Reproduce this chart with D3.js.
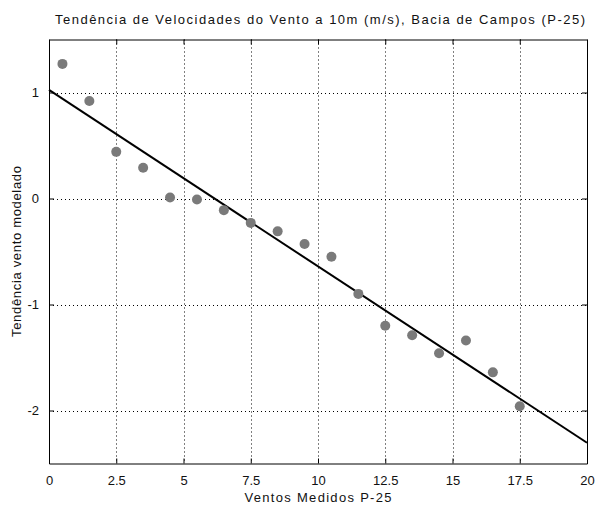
<!DOCTYPE html>
<html>
<head>
<meta charset="utf-8">
<script src="https://cdn.jsdelivr.net/npm/d3@7"></script>
<style>
  html, body { margin: 0; padding: 0; background: #fff; }
  svg { display: block; }
  text { font-family: "Liberation Sans", Arial, Helvetica, sans-serif; fill: #111; }
</style>
</head>
<body>
<svg id="chart" width="596" height="510"></svg>
<script>
// Measured wind speed bins (m/s) and modelled wind trend
const windBins = [0.5, 1.5, 2.5, 3.5, 4.5, 5.5, 6.5, 7.5, 8.5, 9.5, 10.5, 11.5, 12.5, 13.5, 14.5, 15.5, 16.5, 17.5];
const trendValues = [1.27, 0.92, 0.44, 0.29, 0.01, -0.01, -0.11, -0.23, -0.31, -0.43, -0.55, -0.90, -1.20, -1.29, -1.46, -1.34, -1.64, -1.96];

// Linear fit drawn across the full x range
const fitX = [0, 20];
const fitY = [1.024, -2.304];

const xTicks = [0, 2.5, 5, 7.5, 10, 12.5, 15, 17.5, 20];
const xTickLabels = ["0", "2.5", "5", "7.5", "10", "12.5", "15", "17.5", "20"];
const yTicks = [-2, -1, 0, 1];
const yTickLabels = ["-2", "-1", "0", "1"];

const titleText = "Tendência de Velocidades do Vento a 10m (m/s), Bacia de Campos (P-25)";
const xLabelText = "Ventos Medidos P-25";
const yLabelText = "Tendência vento modelado";

const svg = d3.select("#chart");
const plotLeft = 49, plotRight = 587, plotTop = 39.5, plotBottom = 463.5;

const x = d3.scaleLinear().domain([0, 20]).range([plotLeft, plotRight]);
const y = d3.scaleLinear().domain([-2.5, 1.5]).range([plotBottom, plotTop]);

// Dotted grid
const grid = svg.append("g");
grid.selectAll("line.gx")
  .data(xTicks.filter(d => d > 0 && d < 20))
  .join("line")
  .attr("x1", d => Math.round(x(d)) + 0.5).attr("x2", d => Math.round(x(d)) + 0.5)
  .attr("y1", plotTop).attr("y2", plotBottom)
  .attr("stroke", "#000").attr("stroke-width", 1).attr("stroke-dasharray", "1,3");
grid.selectAll("line.gy")
  .data(yTicks)
  .join("line")
  .attr("y1", d => Math.round(y(d)) + 0.5).attr("y2", d => Math.round(y(d)) + 0.5)
  .attr("x1", plotLeft).attr("x2", plotRight)
  .attr("stroke", "#000").attr("stroke-width", 1).attr("stroke-dasharray", "1,3");

// Axes with inward ticks on all four sides
const tickLen = 5;
const xAxisB = d3.axisBottom(x).tickValues(xTicks).tickFormat((d, i) => xTickLabels[i]).tickSizeInner(-tickLen).tickSizeOuter(0).tickPadding(12);
const xAxisT = d3.axisTop(x).tickValues(xTicks).tickFormat("").tickSizeInner(-tickLen).tickSizeOuter(0);
const yAxisL = d3.axisLeft(y).tickValues(yTicks).tickFormat((d, i) => yTickLabels[i]).tickSizeInner(-tickLen).tickSizeOuter(0).tickPadding(10);
const yAxisR = d3.axisRight(y).tickValues(yTicks).tickFormat("").tickSizeInner(-tickLen).tickSizeOuter(0);

function styleAxis(g) {
  g.select(".domain").attr("stroke", "#000");
  g.selectAll(".tick line").attr("stroke", "#000");
  g.selectAll(".tick text").attr("font-size", 13).attr("fill", "#111")
    .attr("font-family", "'Liberation Sans', Arial, sans-serif");
}

svg.append("g").attr("transform", `translate(0,${plotBottom})`).call(xAxisB).call(styleAxis);
svg.append("g").attr("transform", `translate(0,${plotTop})`).call(xAxisT).call(styleAxis);
svg.append("g").attr("transform", `translate(${plotLeft},0)`).call(yAxisL).call(styleAxis);
svg.append("g").attr("transform", `translate(${plotRight},0)`).call(yAxisR).call(styleAxis);

// Fitted trend line
svg.append("line")
  .attr("x1", x(fitX[0])).attr("y1", y(fitY[0]))
  .attr("x2", x(fitX[1])).attr("y2", y(fitY[1]))
  .attr("stroke", "#000").attr("stroke-width", 2);

// Binned points
svg.append("g").selectAll("circle")
  .data(windBins.map((w, i) => [w, trendValues[i]]))
  .join("circle")
  .attr("cx", d => x(d[0])).attr("cy", d => y(d[1]))
  .attr("r", 5)
  .attr("fill", "#7a7a7a");

// Title and axis labels
svg.append("text")
  .attr("x", 320).attr("y", 24)
  .attr("text-anchor", "middle").attr("font-size", 13)
  .attr("textLength", 530).attr("lengthAdjust", "spacing")
  .text(titleText);

svg.append("text")
  .attr("x", 318).attr("y", 502)
  .attr("text-anchor", "middle").attr("font-size", 13)
  .attr("textLength", 147).attr("lengthAdjust", "spacing")
  .text(xLabelText);

svg.append("text")
  .attr("transform", `translate(21,251.5) rotate(-90)`)
  .attr("text-anchor", "middle").attr("font-size", 13)
  .attr("textLength", 171).attr("lengthAdjust", "spacing")
  .text(yLabelText);
</script>
</body>
</html>
